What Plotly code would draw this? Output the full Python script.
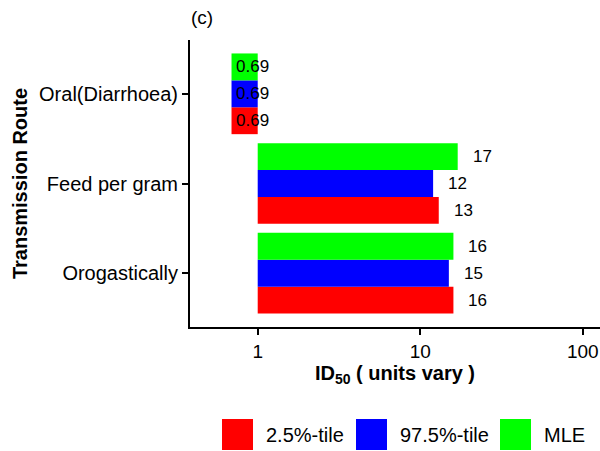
import math
import plotly.graph_objects as go

# ---- data ----
routes = ["Orogastically", "Feed per gram", "Oral(Diarrhoea)"]  # bottom -> top
series_names = ["2.5%-tile", "97.5%-tile", "MLE"]
series_colors = ["#FF0000", "#0000FF", "#00FF00"]
vals_p025 = [16, 13, 0.69]
vals_p975 = [15, 12, 0.69]
vals_mle = [16, 17, 0.69]
label_p025 = ["16", "13", "0.69"]
label_p975 = ["15", "12", "0.69"]
label_mle = ["16", "17", "0.69"]
x_ticks = [1, 10, 100]

series_vals = [vals_p025, vals_p975, vals_mle]
series_labels = [label_p025, label_p975, label_mle]

FONT = "Liberation Sans, Arial, sans-serif"
W, H = 600, 451
ML, MR, MT, MB = 190, 0, 40, 124
PW, PH = W - ML - MR, H - MT - MB

fig = go.Figure()
BASE = 1.0
for name, col, vals in zip(series_names, series_colors, series_vals):
    fig.add_trace(go.Bar(
        y=routes, x=[v - BASE for v in vals], base=BASE, orientation="h",
        name=name, marker=dict(color=col, line=dict(width=0)),
        showlegend=False, hoverinfo="skip",
    ))

# value labels
n = len(series_names)
bargap = 0.1
bw = (1 - bargap) / n
annotations = []
for si, (vals, labs) in enumerate(zip(series_vals, series_labels)):
    off = (si - (n - 1) / 2) * bw
    for ci, (v, lab) in enumerate(zip(vals, labs)):
        annotations.append(dict(
            x=math.log10(v), y=ci + off, xref="x", yref="y",
            text=lab, showarrow=False, xanchor="left", yanchor="middle",
            xshift=13 if v > 1 else 2,
            font=dict(family=FONT, size=17, color="#000000"),
        ))

# custom legend (large keys)
def px_x(X):
    return (X - ML) / PW

def px_y(Y):
    return (H - MB - Y) / PH

legend_key_left = [222, 356, 500]
key_size = 31
key_top = 419
shapes = []
for name, col, kx in zip(series_names, series_colors, legend_key_left):
    shapes.append(dict(type="rect", xref="paper", yref="paper",
                       x0=px_x(kx), x1=px_x(kx + key_size),
                       y0=px_y(key_top + key_size), y1=px_y(key_top),
                       fillcolor=col, line=dict(width=0)))
    annotations.append(dict(
        x=px_x(kx + key_size + 11), y=px_y(key_top + key_size / 2),
        xref="paper", yref="paper", text=name, showarrow=False,
        xanchor="left", yanchor="middle",
        font=dict(family=FONT, size=20, color="#000000"),
    ))

# panel title
annotations.append(dict(
    x=px_x(189), y=px_y(17.5), xref="paper", yref="paper", text="(c)",
    showarrow=False, xanchor="left", yanchor="middle",
    font=dict(family=FONT, size=19, color="#000000"),
))

fig.update_layout(
    width=W, height=H,
    margin=dict(l=ML, r=MR, t=MT, b=MB, autoexpand=False),
    paper_bgcolor="white", plot_bgcolor="white",
    barmode="group", bargap=bargap, bargroupgap=0,
    font=dict(family=FONT, size=20, color="#000000"),
    annotations=annotations, shapes=shapes,
    showlegend=False,
)
fig.update_xaxes(
    type="log", range=[-0.4166, 2.106],
    tickvals=x_ticks, ticktext=[str(t) for t in x_ticks],
    showgrid=False, zeroline=False,
    showline=True, linecolor="black", linewidth=2,
    ticks="outside", ticklen=6, tickwidth=1.5, tickcolor="black",
    tickfont=dict(family=FONT, size=19, color="#000000"),
    title=dict(text="<b>ID<sub>50</sub> ( units vary )</b>", standoff=4,
               font=dict(family=FONT, size=20, color="#000000")),
)
fig.update_yaxes(
    type="category", categoryorder="array", categoryarray=routes,
    range=[-0.6, 2.6],
    showgrid=False, zeroline=False,
    showline=True, linecolor="black", linewidth=2,
    ticks="outside", ticklen=6, tickwidth=1.5, tickcolor="black",
    tickfont=dict(family=FONT, size=20, color="#000000"),
    title=dict(text="<b>Transmission Route</b>", standoff=6,
               font=dict(family=FONT, size=20, color="#000000")),
)

fig.write_html("out.html")
